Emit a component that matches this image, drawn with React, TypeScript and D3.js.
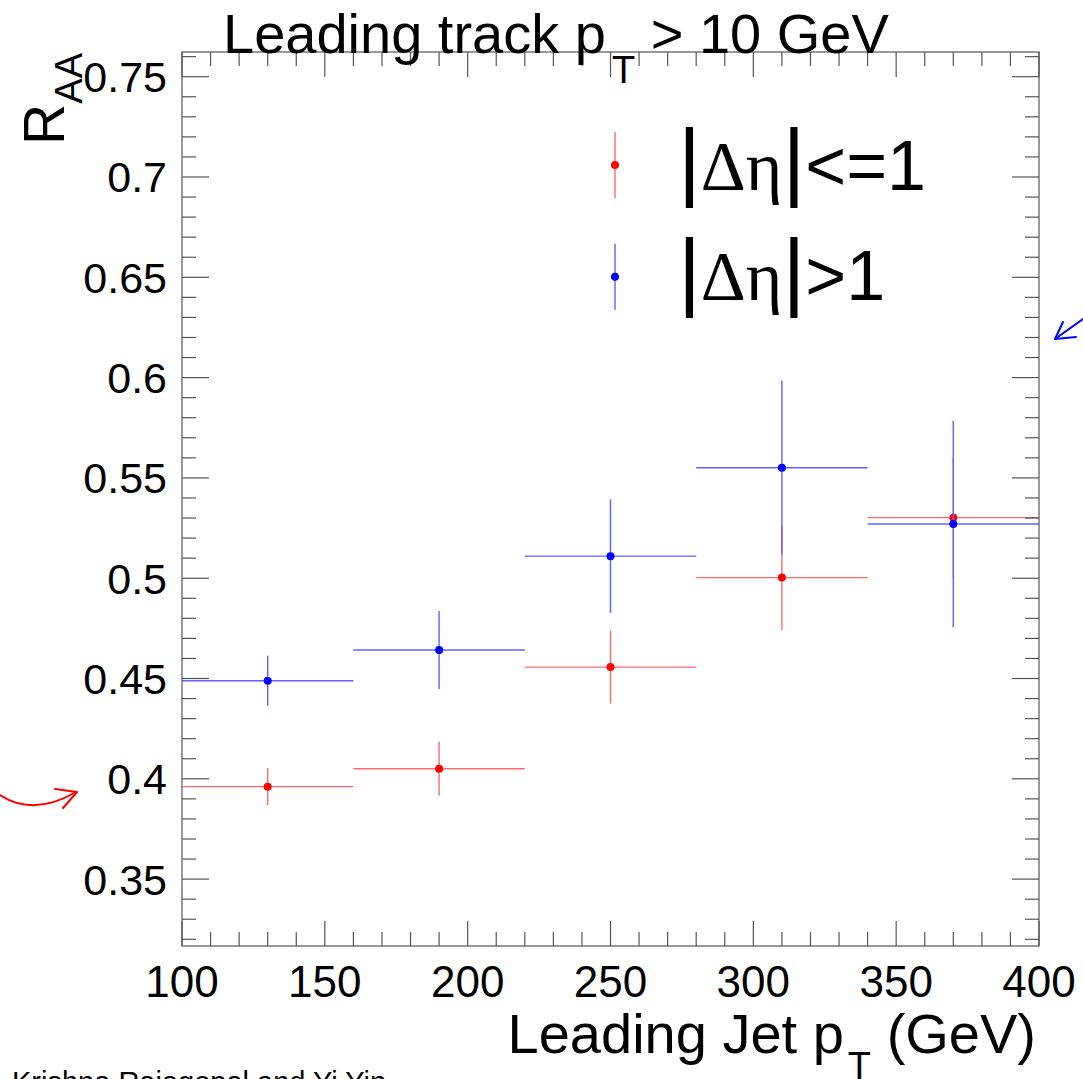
import React from "react";
import * as d3 from "d3";

const binLow = [100, 160, 220, 280, 340];
const binHigh = [160, 220, 280, 340, 400];
const binCenter = [130, 190, 250, 310, 370];
const redValues = [0.3961, 0.405, 0.4557, 0.5003, 0.5302];
const redErrors = [0.0093, 0.0135, 0.0182, 0.0261, 0.03];
const blueValues = [0.4489, 0.4642, 0.511, 0.5551, 0.527];
const blueErrors = [0.0125, 0.0194, 0.0283, 0.0434, 0.0515];
const xTickLabels = ["100", "150", "200", "250", "300", "350", "400"];
const yTickLabels = ["0.35", "0.4", "0.45", "0.5", "0.55", "0.6", "0.65", "0.7", "0.75"];

const W = 1083;
const H = 1079;
const L = 182, R = 1039, T = 52, B = 946;
const FONT = "'Liberation Sans', Arial, Helvetica, sans-serif";
const SERIF = "'Liberation Serif', 'Times New Roman', serif";

export default function App() {
  const x = d3.scaleLinear().domain([100, 400]).range([L, R]);
  const y = d3.scaleLinear().domain([0.31666, 0.76231]).range([B, T]);

  const xMinor = d3.range(100, 401, 10);
  const yMinor = d3.range(32, 77, 1).map((v) => v / 100);
  const isMajorX = (v: number) => v % 50 === 0;
  const isMajorY = (v: number) => Math.abs(Math.round(v * 100) % 5) === 0;

  const series = [
    { vals: redValues, errs: redErrors, color: "#ff0000", line: "#ff6a6a" },
    { vals: blueValues, errs: blueErrors, color: "#0000ff", line: "#6060ff" },
  ];

  return (
    <div style={{ position: "fixed", left: 0, top: 0 }}>
      <svg width={W} height={H} style={{ display: "block", background: "#fff" }}>
        {/* data */}
        {series.map((s, si) => (
          <g key={si}>
            {s.vals.map((v, i) => (
              <g key={i}>
                <line x1={x(binLow[i])} x2={x(binHigh[i])} y1={y(v)} y2={y(v)} stroke={s.line} strokeWidth={1.4} />
                <line x1={x(binCenter[i])} x2={x(binCenter[i])} y1={y(v - s.errs[i])} y2={y(v + s.errs[i])} stroke={s.line} strokeWidth={1.4} />
                <circle cx={x(binCenter[i])} cy={y(v)} r={4} fill={s.color} />
              </g>
            ))}
          </g>
        ))}

        {/* frame */}
        <rect x={L} y={T} width={R - L} height={B - T} fill="none" stroke="#555" strokeWidth={1.2} />
        {xMinor.map((v) => {
          const len = isMajorX(v) ? 25 : 14;
          return (
            <g key={"xt" + v}>
              <line x1={x(v)} x2={x(v)} y1={B} y2={B - len} stroke="#555" strokeWidth={1.2} />
              <line x1={x(v)} x2={x(v)} y1={T} y2={T + len} stroke="#555" strokeWidth={1.2} />
            </g>
          );
        })}
        {yMinor.map((v) => {
          const len = isMajorY(v) ? 27 : 14;
          return (
            <g key={"yt" + v}>
              <line x1={L} x2={L + len} y1={y(v)} y2={y(v)} stroke="#555" strokeWidth={1.2} />
              <line x1={R} x2={R - len} y1={y(v)} y2={y(v)} stroke="#555" strokeWidth={1.2} />
            </g>
          );
        })}

        {/* tick labels */}
        {xTickLabels.map((t) => (
          <text key={"xl" + t} x={x(+t)} y={997} textAnchor="middle" fontFamily={FONT} fontSize={44} fill="#000">
            {t}
          </text>
        ))}
        {yTickLabels.map((t) => (
          <text key={"yl" + t} x={167} y={y(+t) + 15.5} textAnchor="end" fontFamily={FONT} fontSize={43} fill="#000">
            {t}
          </text>
        ))}

        {/* title */}
        <text x={223} y={53} fontFamily={FONT} fontSize={56} fill="#000">
          Leading track p
          <tspan dx={6} dy={30} fontSize={38}>T</tspan>
          <tspan dy={-30}> &gt; 10 GeV</tspan>
        </text>

        {/* axis titles */}
        <text x={1036} y={1053} textAnchor="end" fontFamily={FONT} fontSize={56} fill="#000">
          Leading Jet p
          <tspan dx={4} dy={26} fontSize={38}>T</tspan>
          <tspan dy={-26}> (GeV)</tspan>
        </text>
        <text transform="translate(64,53) rotate(-90)" textAnchor="end" fontFamily={FONT} fontSize={57} fill="#000">
          R
          <tspan dy={18} fontSize={38}>AA</tspan>
        </text>

        {/* legend */}
        {[
          { color: "#ff0000", line: "#ff6a6a", cy: 165, base: 190, label: "<=1" },
          { color: "#0000ff", line: "#6060ff", cy: 276.7, base: 300, label: ">1" },
        ].map((e, i) => (
          <g key={"lg" + i}>
            <line x1={615} x2={615} y1={e.cy - 33} y2={e.cy + 33} stroke={e.line} strokeWidth={1.4} />
            <circle cx={615} cy={e.cy} r={4} fill={e.color} />
            <text x={678} y={e.base} fontFamily={FONT} fontSize={70} fill="#000">
              <tspan fontSize={88}>|</tspan>
              <tspan fontFamily={SERIF}>Δη</tspan>
              <tspan fontSize={88}>|</tspan>
              <tspan>{e.label}</tspan>
            </text>
          </g>
        ))}

        {/* annotations */}
        <path d="M0,795 C20,808 45,810 76,792" fill="none" stroke="#ff0000" strokeWidth={2} strokeLinecap="round" />
        <path d="M55,789 L77,792 L63,808" fill="none" stroke="#ff0000" strokeWidth={2} strokeLinecap="round" strokeLinejoin="round" />
        <path d="M1083,319 L1055,339" fill="none" stroke="#0000ff" strokeWidth={2} strokeLinecap="round" />
        <path d="M1063,322 L1055,339 L1076,337" fill="none" stroke="#0000ff" strokeWidth={2} strokeLinecap="round" strokeLinejoin="round" />

        {/* credit, cut at bottom as in the reference */}
        <text x={12} y={1092} fontFamily={FONT} fontSize={29} fill="#000">
          Krishna Rajagopal and Yi Yin
        </text>
      </svg>
    </div>
  );
}
